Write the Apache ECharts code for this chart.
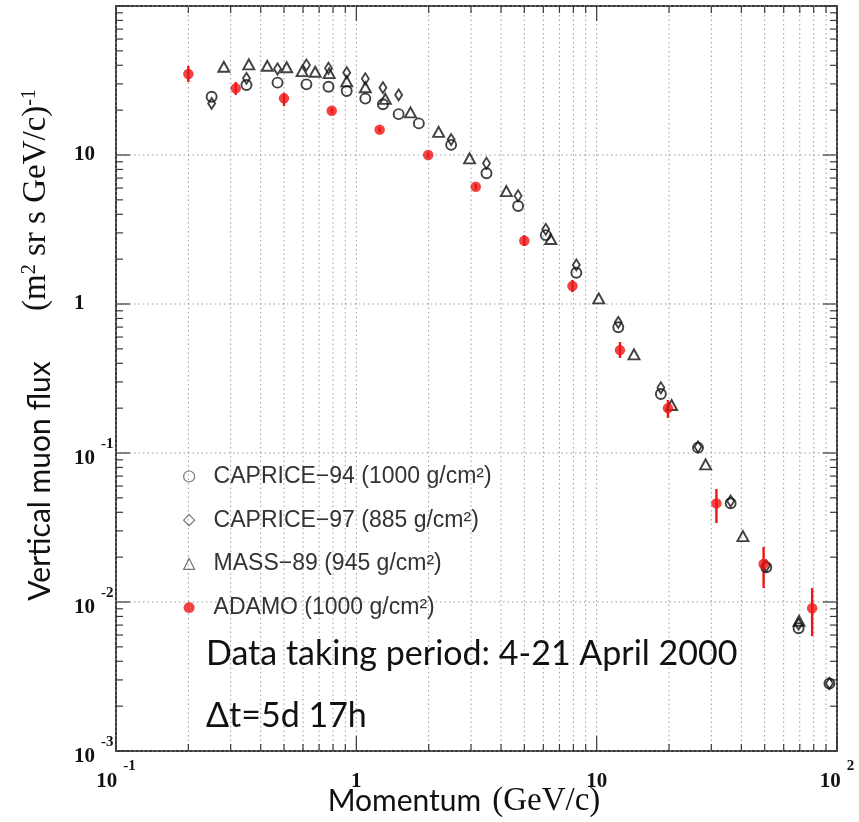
<!DOCTYPE html>
<html><head><meta charset="utf-8">
<script src="https://cdn.jsdelivr.net/npm/echarts@6/dist/echarts.min.js"></script>
<style>html,body{margin:0;padding:0;background:#fff}#c{width:859px;height:822px}</style>
</head><body><div id="c"></div>
<script>
// ---- data ----
const caprice94Name = 'CAPRICE\u221294 (1000 g/cm\u00b2)';
const caprice94X = [0.25, 0.349, 0.47, 0.62, 0.766, 0.912, 1.09, 1.29, 1.50, 1.82, 2.48, 3.48, 4.71, 6.14, 8.23, 12.3, 18.5, 26.4, 36.1, 50.8, 69.2, 93];
const caprice94Y = [24.6, 29.5, 30.6, 29.8, 28.7, 26.9, 23.9, 21.9, 18.8, 16.3, 11.7, 7.54, 4.55, 2.9, 1.62, 0.698, 0.249, 0.1086, 0.046, 0.0171, 0.00666, 0.00284];

const caprice97Name = 'CAPRICE\u221297 (885 g/cm\u00b2)';
const caprice97X = [0.25, 0.349, 0.47, 0.62, 0.766, 0.912, 1.09, 1.29, 1.50, 2.48, 3.48, 4.71, 6.14, 8.23, 12.3, 18.5, 26.4, 36.1, 50.8, 69.2, 93];
const caprice97Y = [22.2, 32.7, 37.8, 40.2, 38.2, 35.7, 32.5, 28.3, 25.3, 12.7, 8.8, 5.33, 3.17, 1.83, 0.753, 0.274, 0.11, 0.0476, 0.0175, 0.0071, 0.00284];

const mass89Name = 'MASS\u221289 (945 g/cm\u00b2)';
const mass89X = [0.281, 0.357, 0.426, 0.513, 0.595, 0.674, 0.771, 0.912, 1.09, 1.32, 1.68, 2.2, 2.96, 4.21, 6.44, 10.2, 14.3, 20.5, 28.4, 40.6, 69.5];
const mass89Y = [39.1, 40.6, 39.7, 38.8, 36.6, 36.2, 35.4, 31.2, 28.5, 23.8, 19.3, 14.3, 9.5, 5.73, 2.73, 1.09, 0.459, 0.21, 0.0839, 0.0277, 0.00748];

const adamoName = 'ADAMO (1000 g/cm\u00b2)';
const adamoX  = [0.2, 0.315, 0.5, 0.79, 1.25, 1.99, 3.14, 5.0, 7.93, 12.5, 19.8, 31.5, 49.5, 78.8];
const adamoY  = [35, 28, 24, 19.8, 14.8, 10, 6.12, 2.66, 1.32, 0.49, 0.2, 0.0459, 0.018, 0.00908];
const adamoLo = [30.9, 25.3, 21.3, 19.0, 14.2, 9.6, 5.85, 2.45, 1.2, 0.434, 0.172, 0.0339, 0.0124, 0.0059];
const adamoHi = [39.6, 30.9, 26.1, 20.6, 15.4, 10.4, 6.4, 2.9, 1.45, 0.556, 0.227, 0.0573, 0.0234, 0.0124];

const xMin = 0.1, xMax = 100, yMin = 0.001, yMax = 100;
const xDecades = [0.1, 1, 10];
const yDecades = [0.001, 0.01, 0.1, 1, 10];
const minorSteps = [2, 3, 4, 5, 6, 7, 8, 9];

// ---- helpers ----
const zip = (xs, ys) => xs.map((x, i) => [x, ys[i]]);
const tickData = [];
xDecades.forEach(d => { tickData.push([d, yMin, 1]); minorSteps.forEach(m => tickData.push([d * m, yMin, 0])); });
tickData.push([xMax, yMin, 1]);
yDecades.forEach(d => { tickData.push([xMin, d, 3]); minorSteps.forEach(m => tickData.push([xMin, d * m, 2])); });
tickData.push([xMin, yMax, 3]);

const frameColor = '#3a3a3a', gridColor = '#9a9a9a';

function renderTicks(params, api) {
  const cs = params.coordSys;
  const kind = api.value(2);
  const children = [];
  const tickStyle = { stroke: frameColor, lineWidth: 1.2 };
  if (kind <= 1) {
    const px = api.coord([api.value(0), yMin])[0];
    const L = kind === 1 ? 15 : 7;
    children.push({ type: 'line', shape: { x1: px, y1: cs.y, x2: px, y2: cs.y + cs.height },
      style: { stroke: gridColor, lineWidth: 1, lineDash: [1.5, 3] } });
    children.push({ type: 'line', shape: { x1: px, y1: cs.y + cs.height, x2: px, y2: cs.y + cs.height - L }, style: tickStyle });
    children.push({ type: 'line', shape: { x1: px, y1: cs.y, x2: px, y2: cs.y + L }, style: tickStyle });
  } else {
    const py = api.coord([xMin, api.value(1)])[1];
    const L = kind === 3 ? 14 : 7;
    if (kind === 3) {
      children.push({ type: 'line', shape: { x1: cs.x, y1: py, x2: cs.x + cs.width, y2: py },
        style: { stroke: gridColor, lineWidth: 1, lineDash: [1.5, 3] } });
    }
    children.push({ type: 'line', shape: { x1: cs.x, y1: py, x2: cs.x + L, y2: py }, style: tickStyle });
    children.push({ type: 'line', shape: { x1: cs.x + cs.width, y1: py, x2: cs.x + cs.width - L, y2: py }, style: tickStyle });
  }
  return { type: 'group', children };
}

function renderErr(params, api) {
  const x = api.value(0);
  const p1 = api.coord([x, api.value(1)]);
  const p2 = api.coord([x, api.value(2)]);
  return { type: 'line', shape: { x1: p1[0], y1: p1[1], x2: p2[0], y2: p2[1] },
    style: { stroke: '#ee1515', lineWidth: 2.4 } };
}

const labRich = {
  b:  { fontFamily: 'Liberation Serif', fontWeight: 'bold', fontSize: 21, color: '#111' },
  bp: { fontFamily: 'Liberation Serif', fontWeight: 'bold', fontSize: 21, color: '#111', padding: [12, 0, 0, 0] },
  s:  { fontFamily: 'Liberation Serif', fontWeight: 'bold', fontSize: 15, color: '#111', verticalAlign: 'top', padding: [0, 0, 0, 6] }
};
function fmt(v, padAll) {
  const e = Math.round(Math.log10(v));
  const tag = padAll ? 'bp' : 'b';
  if (e === 0) return '{' + tag + '|1}';
  if (e === 1) return '{' + tag + '|10}';
  return '{bp|10}{s|' + (e < 0 ? '-' + (-e) : e) + '}';
}

const hollow = { color: 'rgba(255,255,255,0)', borderColor: '#111', borderWidth: 1.9 };

const chart = echarts.init(document.getElementById('c'));
chart.setOption({
  animation: false,
  backgroundColor: '#fff',
  grid: { left: 116, right: 22, top: 6, bottom: 71 },
  xAxis: [
    { type: 'log', min: xMin, max: xMax, splitNumber: 3,
      axisLine: { show: true, onZero: false, lineStyle: { color: frameColor, width: 2 } },
      axisTick: { show: false }, splitLine: { show: false },
      axisLabel: { margin: 8, formatter: v => fmt(v, true), rich: labRich } },
    { type: 'log', min: xMin, max: xMax, position: 'top', splitNumber: 3,
      axisLine: { show: true, onZero: false, lineStyle: { color: frameColor, width: 2 } },
      axisTick: { show: false }, splitLine: { show: false }, axisLabel: { show: false } }
  ],
  yAxis: [
    { type: 'log', min: yMin, max: yMax, splitNumber: 5,
      axisLine: { show: true, onZero: false, lineStyle: { color: frameColor, width: 2 } },
      axisTick: { show: false }, splitLine: { show: false },
      axisLabel: { margin: 42, align: 'left',
        formatter: v => (Math.round(Math.log10(v)) === 2 ? '' : fmt(v, false)), rich: labRich } },
    { type: 'log', min: yMin, max: yMax, position: 'right', splitNumber: 5,
      axisLine: { show: true, onZero: false, lineStyle: { color: frameColor, width: 2 } },
      axisTick: { show: false }, splitLine: { show: false }, axisLabel: { show: false } }
  ],
  legend: {
    orient: 'vertical', left: 178, top: 460, itemWidth: 11, itemHeight: 11, itemGap: 20.7,
    textStyle: { fontFamily: 'Liberation Sans', fontSize: 23, color: '#333', lineHeight: 22, padding: [0, 0, 0, 14] },
    data: [
      { name: caprice94Name, icon: 'circle', itemStyle: { color: 'rgba(0,0,0,0)', borderColor: '#555', borderWidth: 1.2 } },
      { name: caprice97Name, icon: 'diamond', itemStyle: { color: 'rgba(0,0,0,0)', borderColor: '#555', borderWidth: 1.2 } },
      { name: mass89Name, icon: 'triangle', itemStyle: { color: 'rgba(0,0,0,0)', borderColor: '#555', borderWidth: 1.2 } },
      { name: adamoName, icon: 'circle', itemStyle: { color: '#ee1515', borderWidth: 0 } }
    ]
  },
  graphic: [
    { type: 'text', left: 206, top: 637, z: 100,
      style: { text: 'Data taking period: 4-21 April 2000', fontFamily: 'Lato', fontSize: 34, fill: '#111' } },
    { type: 'text', left: 206, top: 699, z: 100,
      style: { text: '\u0394t=5d 17h', fontFamily: 'Lato', fontSize: 34, fill: '#111' } },
    { type: 'text', x: 464, y: 801, z: 100,
      style: { text: '{a|Momentum}{g| }{b|(GeV/c)}', align: 'center', verticalAlign: 'middle',
        rich: { a: { fontFamily: 'Lato', fontSize: 30, fill: '#111' },
                g: { fontSize: 30, width: 11 },
                b: { fontFamily: 'Liberation Serif', fontSize: 33, fill: '#111' } } } },
    { type: 'text', x: 40, y: 481, rotation: Math.PI / 2, z: 100,
      style: { text: 'Vertical muon flux', align: 'center', verticalAlign: 'middle',
        fontFamily: 'Lato', fontSize: 30, fill: '#111' } },
    { type: 'text', x: 36, y: 200, rotation: Math.PI / 2, z: 100,
      style: { text: '{b|(m}{s|2}{b| sr s GeV/c)}{s|-1}', align: 'center', verticalAlign: 'middle',
        rich: { b: { fontFamily: 'Liberation Serif', fontSize: 33, fill: '#111' },
                s: { fontFamily: 'Liberation Serif', fontSize: 20, fill: '#111', verticalAlign: 'top' } } } }
  ],
  series: [
    { type: 'custom', name: 'ticks', silent: true, z: 1, clip: false,
      renderItem: renderTicks, data: tickData, encode: { x: 0, y: 1 } },
    { type: 'custom', name: 'adamoErr', silent: true, z: 3,
      renderItem: renderErr, data: adamoX.map((x, i) => [x, adamoLo[i], adamoHi[i]]), encode: { x: 0, y: [1, 2] } },
    { type: 'scatter', name: caprice94Name, symbol: 'circle', symbolSize: 10, z: 4,
      itemStyle: hollow, data: zip(caprice94X, caprice94Y) },
    { type: 'scatter', name: caprice97Name, symbol: 'diamond', symbolSize: [7, 11], z: 4,
      itemStyle: hollow, data: zip(caprice97X, caprice97Y) },
    { type: 'scatter', name: mass89Name, symbol: 'triangle', symbolSize: [11, 10], z: 4,
      itemStyle: hollow, data: zip(mass89X, mass89Y) },
    { type: 'scatter', name: adamoName, symbol: 'circle', symbolSize: 10.5, z: 5,
      itemStyle: { color: '#ee1515' }, data: zip(adamoX, adamoY) }
  ]
});
</script></body></html>
